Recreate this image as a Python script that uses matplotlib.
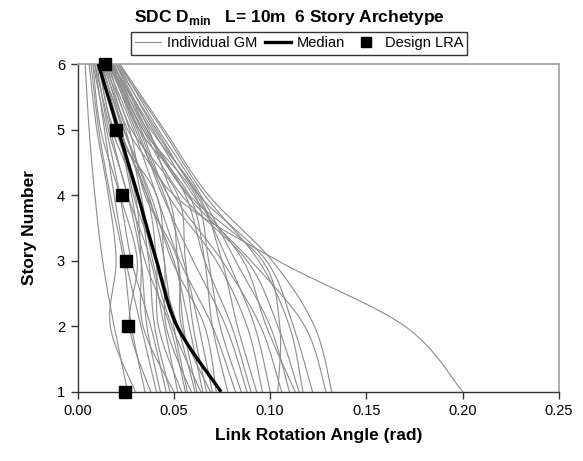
import numpy as np
import matplotlib
matplotlib.use("Agg")
import matplotlib.pyplot as plt
from matplotlib.lines import Line2D

plt.rcParams["font.family"] = ["Liberation Sans", "DejaVu Sans"]
plt.rcParams["mathtext.fontset"] = "custom"
plt.rcParams["mathtext.rm"] = "Liberation Sans"
plt.rcParams["mathtext.bf"] = "Liberation Sans:bold"

stories = [1, 2, 3, 4, 5, 6]

# Peak link rotation per story (stories 1..6) for each ground motion record
gm_records = [
    [0.026, 0.019, 0.013, 0.009, 0.006, 0.004],
    [0.030, 0.017, 0.020, 0.016, 0.010, 0.006],
    [0.035, 0.028, 0.024, 0.017, 0.011, 0.007],
    [0.038, 0.027, 0.031, 0.022, 0.012, 0.008],
    [0.041, 0.033, 0.025, 0.019, 0.014, 0.009],
    [0.043, 0.036, 0.033, 0.026, 0.016, 0.010],
    [0.046, 0.038, 0.028, 0.022, 0.015, 0.008],
    [0.048, 0.040, 0.037, 0.031, 0.018, 0.011],
    [0.050, 0.034, 0.033, 0.030, 0.020, 0.012],
    [0.052, 0.045, 0.038, 0.026, 0.017, 0.009],
    [0.054, 0.042, 0.041, 0.036, 0.022, 0.013],
    [0.056, 0.048, 0.035, 0.028, 0.021, 0.010],
    [0.057, 0.050, 0.045, 0.041, 0.019, 0.011],
    [0.059, 0.046, 0.045, 0.037, 0.024, 0.014],
    [0.061, 0.052, 0.041, 0.029, 0.023, 0.012],
    [0.062, 0.055, 0.052, 0.047, 0.026, 0.015],
    [0.064, 0.049, 0.039, 0.033, 0.025, 0.013],
    [0.065, 0.058, 0.050, 0.036, 0.022, 0.011],
    [0.067, 0.060, 0.056, 0.052, 0.028, 0.016],
    [0.069, 0.054, 0.052, 0.035, 0.027, 0.014],
    [0.070, 0.063, 0.055, 0.045, 0.030, 0.017],
    [0.072, 0.066, 0.049, 0.038, 0.024, 0.012],
    [0.078, 0.070, 0.066, 0.058, 0.032, 0.018],
    [0.082, 0.070, 0.053, 0.041, 0.029, 0.015],
    [0.085, 0.074, 0.068, 0.061, 0.034, 0.019],
    [0.088, 0.077, 0.060, 0.044, 0.031, 0.016],
    [0.090, 0.080, 0.066, 0.056, 0.036, 0.020],
    [0.093, 0.083, 0.075, 0.063, 0.038, 0.018],
    [0.096, 0.088, 0.072, 0.047, 0.033, 0.017],
    [0.100, 0.092, 0.078, 0.062, 0.040, 0.021],
    [0.104, 0.105, 0.096, 0.058, 0.035, 0.019],
    [0.106, 0.095, 0.075, 0.050, 0.037, 0.020],
    [0.110, 0.100, 0.082, 0.064, 0.042, 0.022],
    [0.113, 0.098, 0.086, 0.060, 0.039, 0.018],
    [0.115, 0.104, 0.088, 0.054, 0.034, 0.016],
    [0.117, 0.110, 0.094, 0.066, 0.044, 0.021],
    [0.122, 0.112, 0.098, 0.063, 0.041, 0.020],
    [0.129, 0.118, 0.090, 0.057, 0.036, 0.017],
    [0.132, 0.123, 0.101, 0.068, 0.045, 0.022],
    [0.200, 0.170, 0.104, 0.050, 0.032, 0.018],
]

median_lra = [0.0745, 0.0517, 0.041, 0.0313, 0.021, 0.0108]
design_lra = [0.0247, 0.0261, 0.0252, 0.0231, 0.020, 0.0143]

x_ticks = [0.00, 0.05, 0.10, 0.15, 0.20, 0.25]
y_ticks = [1, 2, 3, 4, 5, 6]


def smooth(xs, ys, n=30):
    """Piecewise cubic Bezier through the points (Catmull-Rom style)."""
    p = np.column_stack([xs, ys]).astype(float)
    m = len(p)
    out = [p[0]]
    t = np.linspace(0, 1, n)[1:, None]
    for i in range(m - 1):
        prev = p[i - 1] if i > 0 else p[i]
        nxt = p[i + 2] if i + 2 < m else p[i + 1]
        c1 = p[i] + (p[i + 1] - prev) / 6.0
        c2 = p[i + 1] - (nxt - p[i]) / 6.0
        seg = ((1 - t) ** 3) * p[i] + 3 * ((1 - t) ** 2) * t * c1 \
            + 3 * (1 - t) * t ** 2 * c2 + t ** 3 * p[i + 1]
        out.extend(seg)
    out = np.array(out)
    return out[:, 0], out[:, 1]


fig = plt.figure(figsize=(5.83, 4.61), dpi=100)
ax = fig.add_axes([0.133, 0.150, 0.826, 0.711])

gray = "#8c8c8c"
for rec in gm_records:
    sx, sy = smooth(rec, stories)
    ax.plot(sx, sy, color=gray, lw=0.8, zorder=2)

mx, my = smooth(median_lra, stories)
ax.plot(mx, my, color="black", lw=2.4, zorder=3, solid_capstyle="butt")

ax.plot(design_lra, stories, linestyle="none", marker="s", ms=9,
        color="black", zorder=4, clip_on=False)

ax.set_xlim(0, 0.25)
ax.set_ylim(1, 6)
ax.set_xticks(x_ticks)
ax.set_xticklabels([f"{v:.2f}" for v in x_ticks])
ax.set_yticks(y_ticks)
ax.set_yticklabels([str(v) for v in y_ticks])
ax.tick_params(axis="both", direction="out", length=5, width=1,
               color="#333333", labelsize=10.5, pad=4)

for side in ("left", "bottom"):
    ax.spines[side].set_color("#333333")
    ax.spines[side].set_linewidth(1.0)
for side in ("top", "right"):
    ax.spines[side].set_color("#a0a0a0")
    ax.spines[side].set_linewidth(1.2)

ax.set_xlabel("Link Rotation Angle (rad)", fontsize=12.5, fontweight="bold", labelpad=7)
ax.set_ylabel("Story Number", fontsize=12.5, fontweight="bold", labelpad=14)

fig.text(0.497, 0.962, r"SDC D$_\mathbf{min}$   L= 10m  6 Story Archetype",
         ha="center", va="center", fontsize=12.5, fontweight="bold")

handles = [
    Line2D([], [], color=gray, lw=0.8),
    Line2D([], [], color="black", lw=2.4),
    Line2D([], [], linestyle="none", marker="s", ms=7, color="black"),
]
leg = fig.legend(handles, ["Individual GM", "Median", "Design LRA"],
                 loc="center", bbox_to_anchor=(0.513, 0.906), ncol=3,
                 frameon=True, fancybox=False, fontsize=10.5,
                 handlelength=1.8, handletextpad=0.4, columnspacing=0.5,
                 borderpad=0.3, borderaxespad=0)
leg.get_frame().set_edgecolor("black")
leg.get_frame().set_linewidth(1.0)

fig.savefig("out.png", dpi=100)
